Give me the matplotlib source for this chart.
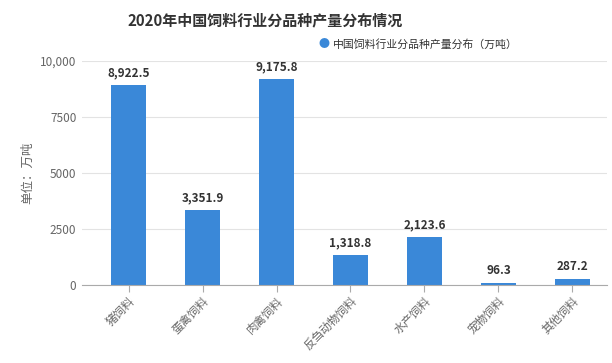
import matplotlib.pyplot as plt
import numpy as np

plt.rcParams['font.family'] = ['Noto Sans CJK SC', 'DejaVu Sans']

categories = ['猪饲料', '蛋禽饲料', '肉禽饲料', '反刍动物饲料', '水产饲料', '宠物饲料', '其他饲料']
values = [8922.5, 3351.9, 9175.8, 1318.8, 2123.6, 96.3, 287.2]
yticks = [0, 2500, 5000, 7500, 10000]
ytick_labels = ['0', '2500', '5000', '7500', '10,000']

bar_color = '#3a88d8'

fig = plt.figure(figsize=(6.12, 3.63), dpi=100)
ax = fig.add_axes([0.134, 0.215, 0.858, 0.618])

x = np.arange(len(categories))
ax.bar(x, values, width=0.47, color=bar_color, zorder=3)

for xi, v in zip(x, values):
    ax.text(xi, v + 250, f'{v:,.1f}', ha='center', va='bottom',
            fontsize=8.5, fontweight='bold', color='#333333', zorder=4)

ax.set_xlim(-0.63, 6.47)
ax.set_ylim(0, 10000)
ax.set_yticks(yticks)
ax.set_yticklabels(ytick_labels)
ax.set_xticks(x)
ax.set_xticklabels(categories, rotation=45, ha='right', rotation_mode='anchor')

ax.grid(axis='y', color='#e3e3e3', linewidth=0.8, zorder=0)
for s in ['top', 'right', 'left']:
    ax.spines[s].set_visible(False)
ax.spines['bottom'].set_color('#aaaaaa')
ax.spines['bottom'].set_zorder(5)

ax.tick_params(axis='y', length=0, labelsize=8.5, labelcolor='#666666', pad=4)
ax.tick_params(axis='x', length=5, color='#aaaaaa', labelsize=8.3, labelcolor='#666666', pad=2)

ax.set_ylabel('单位：万吨', fontsize=9, color='#666666', labelpad=4)

fig.text(265 / 612, 1 - 20 / 363, '2020年中国饲料行业分品种产量分布情况',
         ha='center', va='center', fontsize=10.8, fontweight='bold', color='#333333')

fig.text(324 / 612, 1 - 44 / 363, '●', ha='center', va='center', fontsize=8, color=bar_color)
fig.text(333 / 612, 1 - 44 / 363, '中国饲料行业分品种产量分布（万吨）',
         ha='left', va='center', fontsize=7.8, color='#333333')

fig.savefig('out.png', dpi=100)
